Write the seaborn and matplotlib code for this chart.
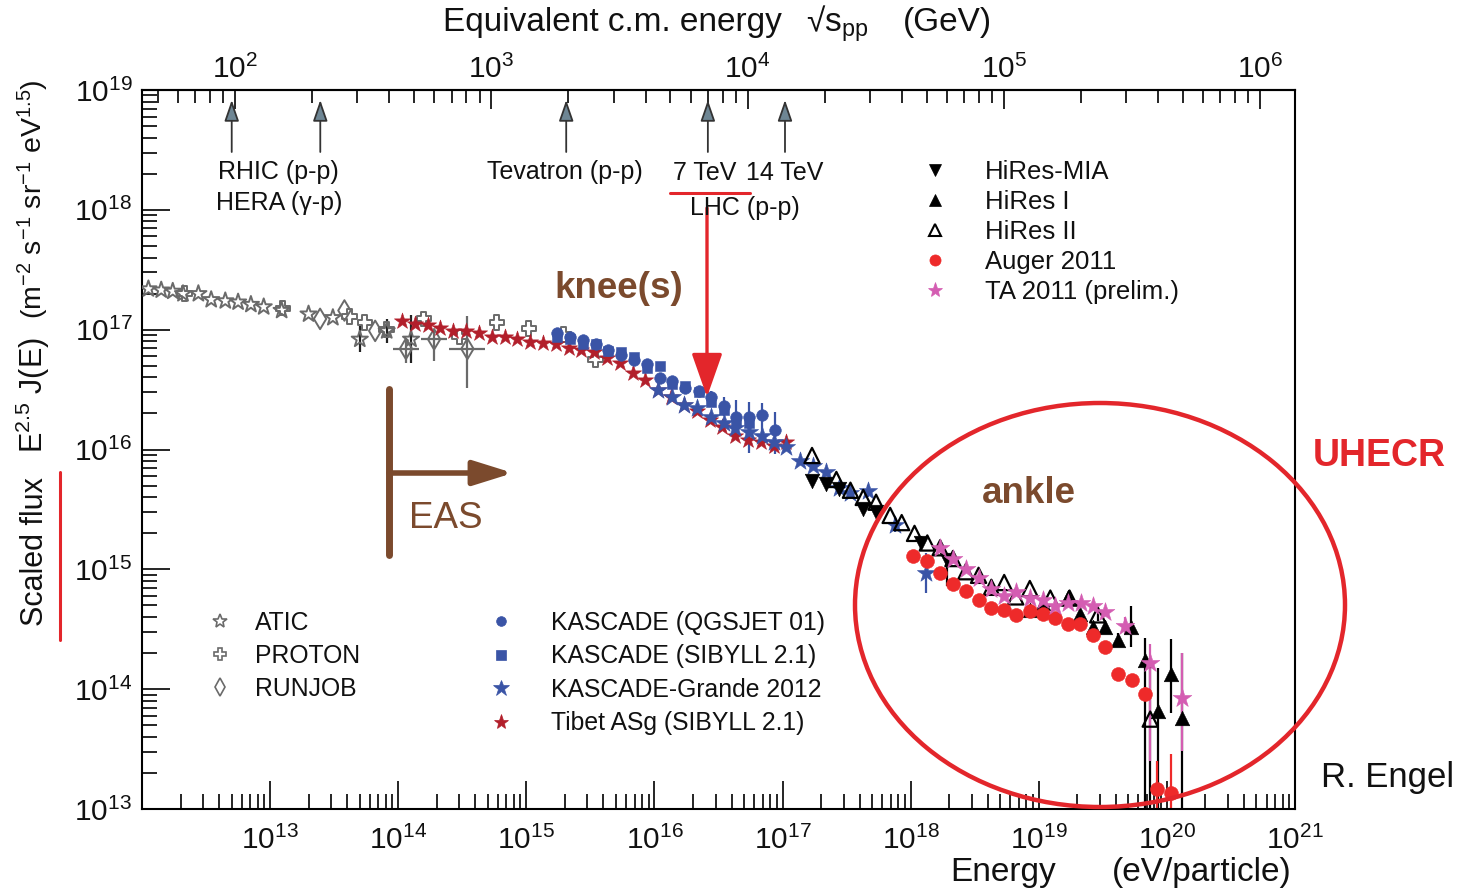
import numpy as np
import matplotlib
matplotlib.use("Agg")
import matplotlib.pyplot as plt
import seaborn as sns
from matplotlib.lines import Line2D
from matplotlib.patches import Ellipse, FancyArrowPatch
from matplotlib.ticker import FixedLocator, NullFormatter, FuncFormatter

# ---------------------------------------------------------------------------
# Cosmic-ray all-particle spectrum, scaled flux E^2.5 J(E)
# values are log10(E / eV) and log10(E^2.5 J(E) / m^-2 s^-1 sr^-1 eV^1.5)
# ---------------------------------------------------------------------------
atic_logE = [12.05, 12.15, 12.24, 12.32, 12.44, 12.54, 12.65, 12.75, 12.85, 12.95,
             13.09, 13.30, 13.49, 13.70, 13.91, 14.10]
atic_logF = [17.34, 17.33, 17.32, 17.30, 17.30, 17.25, 17.24, 17.23, 17.21, 17.19,
             17.16, 17.13, 17.10, 16.92, 16.99, 16.92]
atic_err = [0, 0, 0, 0, 0, 0, 0, 0, 0, 0, 0, 0, 0, 0.11, 0.10, 0.20]

proton_logE = [12.33, 13.10, 13.62, 13.74, 13.91, 14.20, 14.48, 14.77, 15.02, 15.29, 15.54]
proton_logF = [17.30, 17.18, 17.11, 17.06, 17.00, 17.09, 16.94, 17.06, 17.01, 16.96, 16.75]

runjob_logE = [13.39, 13.58, 13.82, 14.06, 14.28, 14.54]
runjob_logF = [17.09, 17.16, 16.99, 16.84, 16.92, 16.84]
runjob_err_lo = [0, 0, 0, 0.12, 0.18, 0.33]
runjob_err_hi = [0, 0, 0, 0.08, 0.07, 0.27]
runjob_xerr = [0, 0, 0, 0.10, 0.10, 0.14]

tibet_logE = [14.03, 14.13, 14.23, 14.33, 14.43, 14.53, 14.63, 14.73, 14.83, 14.93,
              15.03, 15.13, 15.23, 15.33, 15.43, 15.53, 15.63, 15.73, 15.83, 15.93,
              16.03, 16.13, 16.23, 16.33, 16.43, 16.53, 16.63, 16.73, 16.83, 16.93, 17.03]
tibet_logF = [17.07, 17.05, 17.04, 17.01, 16.99, 16.99, 16.97, 16.94, 16.94, 16.92,
              16.90, 16.89, 16.88, 16.85, 16.83, 16.81, 16.76, 16.72, 16.64, 16.58,
              16.50, 16.44, 16.37, 16.32, 16.25, 16.19, 16.11, 16.08, 16.06, 16.03, 16.06]

kq_logE = [15.24, 15.34, 15.44, 15.54, 15.64, 15.74, 15.84, 15.94, 16.04, 16.14,
           16.24, 16.35, 16.44, 16.54, 16.64, 16.74, 16.84, 16.94]
kq_logF = [16.97, 16.94, 16.91, 16.88, 16.83, 16.79, 16.75, 16.71, 16.60, 16.57,
           16.51, 16.49, 16.44, 16.36, 16.27, 16.27, 16.29, 16.16]
kq_err_lo = [0, 0, 0, 0, 0, 0, 0, 0, 0, 0, 0, 0, 0.05, 0.08, 0.14, 0.30, 0.22, 0.20]
kq_err_hi = [0, 0, 0, 0, 0, 0, 0, 0, 0, 0, 0, 0, 0.05, 0.08, 0.14, 0.13, 0.10, 0.15]

ks_logE = [15.24, 15.34, 15.44, 15.54, 15.64, 15.74, 15.84, 15.94, 16.04, 16.14,
           16.24, 16.35, 16.44, 16.54, 16.64, 16.74]
ks_logF = [16.94, 16.92, 16.88, 16.88, 16.82, 16.81, 16.77, 16.68, 16.70, 16.55,
           16.53, 16.48, 16.40, 16.33, 16.23, 16.22]

kg_logE = [16.03, 16.14, 16.23, 16.33, 16.44, 16.54, 16.63, 16.74, 16.84, 16.93,
           17.03, 17.14, 17.24, 17.34, 17.44, 17.53, 17.67, 17.88, 18.12]
kg_logF = [16.50, 16.44, 16.37, 16.35, 16.27, 16.22, 16.18, 16.15, 16.11, 16.06,
           16.02, 15.90, 15.86, 15.81, 15.68, 15.64, 15.65, 15.37, 14.97]
kg_err = [0.02, 0.02, 0.02, 0.03, 0.03, 0.03, 0.03, 0.03, 0.03, 0.03,
          0.03, 0.03, 0.03, 0.03, 0.04, 0.04, 0.05, 0.06, 0.17]

mia_logE = [17.23, 17.34, 17.44, 17.63, 17.73, 18.08, 18.28]
mia_logF = [15.74, 15.71, 15.67, 15.50, 15.48, 15.22, 15.08]
mia_err_lo = [0, 0, 0, 0, 0, 0.06, 0.22]
mia_err_hi = [0, 0, 0, 0, 0, 0.06, 0.06]

hires1_logE = [18.93, 19.03, 19.23, 19.32, 19.42, 19.52, 19.62, 19.72, 19.83, 19.93, 20.03, 20.12]
hires1_logF = [14.66, 14.72, 14.77, 14.63, 14.52, 14.52, 14.41, 14.52, 14.24, 13.82, 14.13, 13.76]
hires1_err_lo = [0, 0, 0, 0.03, 0.04, 0.05, 0.06, 0.17, 1.5, 1.5, 0.33, 1.5]
hires1_err_hi = [0, 0, 0, 0.03, 0.04, 0.05, 0.06, 0.17, 0.19, 0.36, 0.29, 0.54]

hires2_logE = [17.23, 17.42, 17.53, 17.63, 17.73, 17.84, 17.93, 18.03, 18.13, 18.23,
               18.33, 18.43, 18.53, 18.63, 18.73, 18.82, 18.93, 19.09, 19.24, 19.46, 19.87]
hires2_logF = [15.95, 15.75, 15.66, 15.60, 15.56, 15.45, 15.39, 15.30, 15.22, 15.18,
               15.09, 14.98, 14.95, 14.85, 14.89, 14.77, 14.84, 14.76, 14.76, 14.62, 13.75]
hires2_err_lo = [0, 0, 0, 0, 0, 0, 0, 0, 0, 0, 0, 0, 0, 0, 0, 0, 0, 0, 0, 0.05, 1.5]
hires2_err_hi = [0, 0, 0, 0, 0, 0, 0, 0, 0, 0, 0, 0, 0, 0, 0, 0, 0, 0, 0, 0.05, 0.49]

auger_logE = [18.02, 18.13, 18.23, 18.33, 18.43, 18.53, 18.63, 18.73, 18.82, 18.93,
              19.03, 19.13, 19.23, 19.32, 19.42, 19.52, 19.62, 19.73, 19.83, 19.92, 20.03]
auger_logF = [15.11, 15.07, 14.97, 14.88, 14.82, 14.74, 14.68, 14.66, 14.62, 14.65,
              14.63, 14.59, 14.54, 14.54, 14.45, 14.35, 14.13, 14.08, 13.96, 13.17, 13.13]
auger_err_lo = [0, 0, 0, 0, 0, 0, 0, 0, 0, 0, 0, 0, 0, 0, 0, 0, 0.03, 0.04, 0.06, 1.5, 1.5]
auger_err_hi = [0, 0, 0, 0, 0, 0, 0, 0, 0, 0, 0, 0, 0, 0, 0, 0, 0.03, 0.04, 0.06, 0.23, 0.33]

ta_logE = [18.23, 18.33, 18.43, 18.53, 18.63, 18.73, 18.82, 18.93, 19.03, 19.13,
           19.23, 19.33, 19.42, 19.52, 19.67, 19.87, 20.12]
ta_logF = [15.18, 15.09, 15.00, 14.93, 14.84, 14.78, 14.81, 14.76, 14.74, 14.69,
           14.72, 14.72, 14.69, 14.64, 14.53, 14.22, 13.93]
ta_err_lo = [0, 0, 0, 0, 0, 0, 0, 0, 0, 0, 0, 0, 0, 0, 0.07, 0.82, 0.45]
ta_err_hi = [0, 0, 0, 0, 0, 0, 0, 0, 0, 0, 0, 0, 0, 0, 0.07, 0.16, 0.37]

# collider energies, sqrt(s) in GeV, marked on the top axis
collider_sqrts = [97, 215, 1960, 7000, 14000]

# tick decades
x_decades = [12, 13, 14, 15, 16, 17, 18, 19, 20, 21]
y_decades = [13, 14, 15, 16, 17, 18, 19]
top_decades = [1, 2, 3, 4, 5, 6]

M_P = 0.938  # proton mass, GeV

# colours
GREY = "#6a6a6a"
BLUE = "#3a54a6"
TIBET = "#b21f2b"
AUGER = "#ee2a2a"
PINK = "#d45db2"
BROWN = "#7b4a2d"
RED = "#e3262b"

# ---------------------------------------------------------------------------
sns.set_theme(style="white")
plt.rcParams["font.family"] = ["Liberation Sans", "DejaVu Sans"]
plt.rcParams["mathtext.fontset"] = "custom"
plt.rcParams["mathtext.rm"] = "Liberation Sans"
plt.rcParams["mathtext.it"] = "Liberation Sans:italic"
plt.rcParams["mathtext.bf"] = "Liberation Sans:bold"
plt.rcParams["axes.unicode_minus"] = False

W, H = 1459, 890
fig = plt.figure(figsize=(W / 100, H / 100), dpi=100)
fig.patch.set_facecolor("white")
AX_L, AX_R, AX_T, AX_B = 142, 1295, 90, 809
ax = fig.add_axes([AX_L / W, 1 - AX_B / H, (AX_R - AX_L) / W, (AX_B - AX_T) / H])
ax.set_xscale("log")
ax.set_yscale("log")
XLIM = (10.0 ** x_decades[0], 10.0 ** x_decades[-1])
YLIM = (10.0 ** y_decades[0], 10.0 ** y_decades[-1])
ax.set_xlim(*XLIM)
ax.set_ylim(*YLIM)


def fpos(x, y):
    """figure-fraction position from pixel position (origin top-left)"""
    return (x / W, 1 - y / H)


def errbars(logE, logF, lo, hi, color, xerr=None, lw=1.6):
    E = 10.0 ** np.asarray(logE)
    F = 10.0 ** np.asarray(logF)
    lo = np.asarray(lo, float)
    hi = np.asarray(hi, float)
    yerr = [F - F * 10.0 ** (-lo), F * 10.0 ** hi - F]
    xe = None
    if xerr is not None:
        xr = np.asarray(xerr, float)
        xe = [E - E * 10.0 ** (-xr), E * 10.0 ** xr - E]
    ax.errorbar(E, F, yerr=yerr, xerr=xe, fmt="none", ecolor=color,
                elinewidth=lw, capsize=0, zorder=2)


def points(logE, logF, marker, color, size, hollow=False, lw=1.5, z=3):
    E = 10.0 ** np.asarray(logE)
    F = 10.0 ** np.asarray(logF)
    kws = dict(marker=marker, s=size, color=color, edgecolor=color,
               linewidth=lw if hollow else 0.4, legend=False, ax=ax, zorder=z)
    if hollow:
        kws["facecolor"] = "none"
    sns.scatterplot(x=E, y=F, **kws)


# low-energy direct measurements
errbars(atic_logE, atic_logF, atic_err, atic_err, "#222222")
errbars(runjob_logE, runjob_logF, runjob_err_lo, runjob_err_hi, GREY, xerr=runjob_xerr)
points(atic_logE, atic_logF, "*", GREY, 150, hollow=True, lw=1.4)
points(proton_logE, proton_logF, "P", GREY, 110, hollow=True, lw=1.4)
points(runjob_logE, runjob_logF, "d", GREY, 110, hollow=True, lw=1.4)

# air-shower experiments around the knee
points(tibet_logE, tibet_logF, "*", TIBET, 150)
errbars(kq_logE, kq_logF, kq_err_lo, kq_err_hi, BLUE)
points(ks_logE, ks_logF, "s", BLUE, 62)
points(kq_logE, kq_logF, "o", BLUE, 70)
errbars(kg_logE, kg_logF, kg_err, kg_err, BLUE)
points(kg_logE, kg_logF, "*", BLUE, 190)

# highest energies
errbars(hires2_logE, hires2_logF, hires2_err_lo, hires2_err_hi, "black")
errbars(mia_logE, mia_logF, mia_err_lo, mia_err_hi, "black")
errbars(hires1_logE, hires1_logF, hires1_err_lo, hires1_err_hi, "black")
errbars(auger_logE, auger_logF, auger_err_lo, auger_err_hi, AUGER)
errbars(ta_logE, ta_logF, ta_err_lo, ta_err_hi, PINK)
points(hires2_logE, hires2_logF, "^", "black", 120, hollow=True, lw=1.6)
points(mia_logE, mia_logF, "v", "black", 110)
points(hires1_logE, hires1_logF, "^", "black", 110)
points(auger_logE, auger_logF, "o", AUGER, 100, z=4)
points(ta_logE, ta_logF, "*", PINK, 200, z=5)

# ---------------------------------------------------------------------------
# axes, ticks
TICK_FS = 21.5


def dec_label(v, pos, skip=()):
    e = int(round(np.log10(v)))
    if e in skip:
        return ""
    return r"$\mathdefault{10^{%d}}$" % e


def log_ticks(decades, lo, hi):
    major = [10.0 ** d for d in decades if lo * 0.999 <= 10.0 ** d <= hi * 1.001]
    minor = [k * 10.0 ** d for d in decades for k in range(2, 10) if lo < k * 10.0 ** d < hi]
    return major, minor


xmaj, xmin = log_ticks(x_decades, *XLIM)
ymaj, ymin = log_ticks(y_decades, *YLIM)
ax.xaxis.set_major_locator(FixedLocator(xmaj))
ax.xaxis.set_minor_locator(FixedLocator(xmin))
ax.yaxis.set_major_locator(FixedLocator(ymaj))
ax.yaxis.set_minor_locator(FixedLocator(ymin))
ax.xaxis.set_major_formatter(FuncFormatter(lambda v, p: dec_label(v, p, skip=(x_decades[0],))))
ax.yaxis.set_major_formatter(FuncFormatter(dec_label))
ax.xaxis.set_minor_formatter(NullFormatter())
ax.yaxis.set_minor_formatter(NullFormatter())
ax.tick_params(which="both", direction="in", top=False, right=False, left=True, bottom=True,
               width=1.2, color="black", labelsize=TICK_FS, labelcolor="#111111")
ax.tick_params(which="major", length=20)
ax.tick_params(which="minor", length=11)
ax.tick_params(axis="x", which="major", pad=12)
ax.tick_params(axis="y", which="major", pad=7)
for s in ax.spines.values():
    s.set_linewidth(1.5)
    s.set_color("black")
ax.grid(False)


def e_to_sqrts(E):
    E = np.asarray(E, float)
    return np.sqrt(np.clip(2 * M_P * E / 1e9, 1e-30, None))


def sqrts_to_e(s):
    s = np.asarray(s, float)
    return s ** 2 / (2 * M_P) * 1e9


sec = ax.secondary_xaxis("top", functions=(e_to_sqrts, sqrts_to_e))
tmaj, tmin = log_ticks(top_decades, float(e_to_sqrts(XLIM[0])), float(e_to_sqrts(XLIM[1])))
sec.xaxis.set_major_locator(FixedLocator(tmaj))
sec.xaxis.set_minor_locator(FixedLocator(tmin))
sec.xaxis.set_major_formatter(FuncFormatter(dec_label))
sec.xaxis.set_minor_formatter(NullFormatter())
sec.tick_params(which="both", direction="in", width=1.2, color="black",
                labelsize=TICK_FS, labelcolor="#111111", pad=4)
sec.tick_params(which="major", length=14)
sec.tick_params(which="minor", length=9)
sec.spines["top"].set_linewidth(1.5)

# collider arrows on the top axis
for sq in collider_sqrts:
    Ec = float(sqrts_to_e(sq))
    ax.annotate("", xy=(Ec, (AX_B - 100) / (AX_B - AX_T)), xycoords=("data", "axes fraction"),
                xytext=(Ec, (AX_B - 152) / (AX_B - AX_T)), textcoords=("data", "axes fraction"),
                arrowprops=dict(arrowstyle="-|>,head_length=13,head_width=4.5", mutation_scale=1,
                                fc="#6e8694", ec="#333333", lw=1.3, shrinkA=0, shrinkB=0))

ANN_FS = 18
fig.text(*fpos(278, 172), "RHIC (p-p)", ha="center", va="center", fontsize=ANN_FS, color="#111111")
fig.text(*fpos(279, 203), "HERA (\u03b3-p)", ha="center", va="center", fontsize=ANN_FS, color="#111111")
fig.text(*fpos(565, 172), "Tevatron (p-p)", ha="center", va="center", fontsize=ANN_FS, color="#111111")
fig.text(*fpos(705, 173), "7 TeV", ha="center", va="center", fontsize=ANN_FS, color="#111111")
fig.text(*fpos(785, 173), "14 TeV", ha="center", va="center", fontsize=ANN_FS, color="#111111")
fig.text(*fpos(745, 208), "LHC (p-p)", ha="center", va="center", fontsize=ANN_FS, color="#111111")
fig.add_artist(Line2D([670 / W, 750 / W], [1 - 193 / H, 1 - 193 / H], color=RED, lw=2.2))

# knee arrow
fig.add_artist(FancyArrowPatch(
    fpos(707, 208), fpos(707, 397), transform=fig.transFigure,
    arrowstyle="-|>,head_length=27,head_width=9.5", mutation_scale=1,
    color=RED, lw=2.4, shrinkA=0, shrinkB=0))

# EAS threshold bracket
fig.add_artist(Line2D([389 / W, 389 / W], [1 - 389 / H, 1 - 555 / H], color=BROWN, lw=5))
fig.add_artist(FancyArrowPatch(
    fpos(389, 473), fpos(513, 473), transform=fig.transFigure,
    arrowstyle="-|>,head_length=24,head_width=7.5", mutation_scale=1,
    color=BROWN, lw=4, shrinkA=0, shrinkB=0))

BIG = 26.5
fig.text(*fpos(619, 289), "knee(s)", ha="center", va="center", fontsize=BIG, fontweight="bold", color=BROWN)
fig.text(*fpos(446, 519), "EAS", ha="center", va="center", fontsize=BIG, color=BROWN)
fig.text(*fpos(1029, 493), "ankle", ha="center", va="center", fontsize=BIG, fontweight="bold", color=BROWN)
fig.text(*fpos(1379, 456), "UHECR", ha="center", va="center", fontsize=27, fontweight="bold", color=RED)
fig.text(*fpos(1388, 778), "R. Engel", ha="center", va="center", fontsize=25, color="#111111")

# UHECR region
fig.add_artist(Ellipse(fpos(1100, 605), 490 / W, 404 / H, transform=fig.transFigure,
                       fill=False, ec=RED, lw=3.2))

# axis titles
fig.text(*fpos(443, 22), "Equivalent c.m. energy", ha="left", va="center", fontsize=24, color="#111111")
fig.text(*fpos(806, 24), "\u221as$_{\\mathrm{pp}}$", ha="left", va="center", fontsize=24, color="#111111")
fig.text(*fpos(903, 22), "(GeV)", ha="left", va="center", fontsize=24, color="#111111")
fig.text(*fpos(950, 872), "Energy", ha="left", va="center", fontsize=24, color="#111111")
fig.text(*fpos(1112, 872), "(eV/particle)", ha="left", va="center", fontsize=24, color="#111111")

YL_FS = 22
fig.text(*fpos(35, 552), "Scaled flux", rotation=90, ha="center", va="center", fontsize=YL_FS, color="#111111")
fig.text(*fpos(33, 395), "E$^{2.5}$ J(E)", rotation=90, ha="center", va="center", fontsize=YL_FS, color="#111111")
fig.text(*fpos(33, 199), "(m$^{-2}$ s$^{-1}$ sr$^{-1}$ eV$^{1.5}$)", rotation=90, ha="center", va="center",
         fontsize=20.5, color="#111111")
fig.add_artist(Line2D([60 / W, 60 / W], [1 - 472 / H, 1 - 640 / H], color=RED, lw=2.2))

# ---------------------------------------------------------------------------
# legends


def hnd(marker, color, ms, hollow=False, mew=1.2):
    return Line2D([], [], ls="none", marker=marker, ms=ms, mec=color,
                  mfc="none" if hollow else color, mew=mew if hollow else 0.5)


def make_legend(handles, labels, anchor_px, textpad, spacing, fs):
    leg = ax.legend(handles, labels, loc="upper left", bbox_to_anchor=fpos(*anchor_px),
                    bbox_transform=fig.transFigure, frameon=False, fontsize=fs,
                    handlelength=1.0, handletextpad=textpad, labelspacing=spacing,
                    borderpad=0, borderaxespad=0)
    for t in leg.get_texts():
        t.set_color("#111111")
    return leg


leg1 = make_legend([hnd("*", GREY, 10, True), hnd("P", GREY, 8, True), hnd("d", GREY, 9, True)],
                   ["ATIC", "PROTON", "RUNJOB"], (208, 611), 0.9, 0.36, 17.8)
ax.add_artist(leg1)
leg2 = make_legend([hnd("o", BLUE, 7), hnd("s", BLUE, 6.5), hnd("*", BLUE, 12), hnd("*", TIBET, 11)],
                   ["KASCADE (QGSJET 01)", "KASCADE (SIBYLL 2.1)", "KASCADE-Grande 2012",
                    "Tibet ASg (SIBYLL 2.1)"], (489, 611), 1.52, 0.38, 17.8)
ax.add_artist(leg2)
leg3 = make_legend([hnd("v", "black", 8), hnd("^", "black", 8), hnd("^", "black", 8, True, 1.5),
                    hnd("o", AUGER, 8), hnd("*", PINK, 11)],
                   ["HiRes-MIA", "HiRes I", "HiRes II", "Auger 2011", "TA 2011 (prelim.)"],
                   (922, 160), 1.45, 0.23, 18.5)

fig.savefig("out.png", dpi=100, facecolor="white")
